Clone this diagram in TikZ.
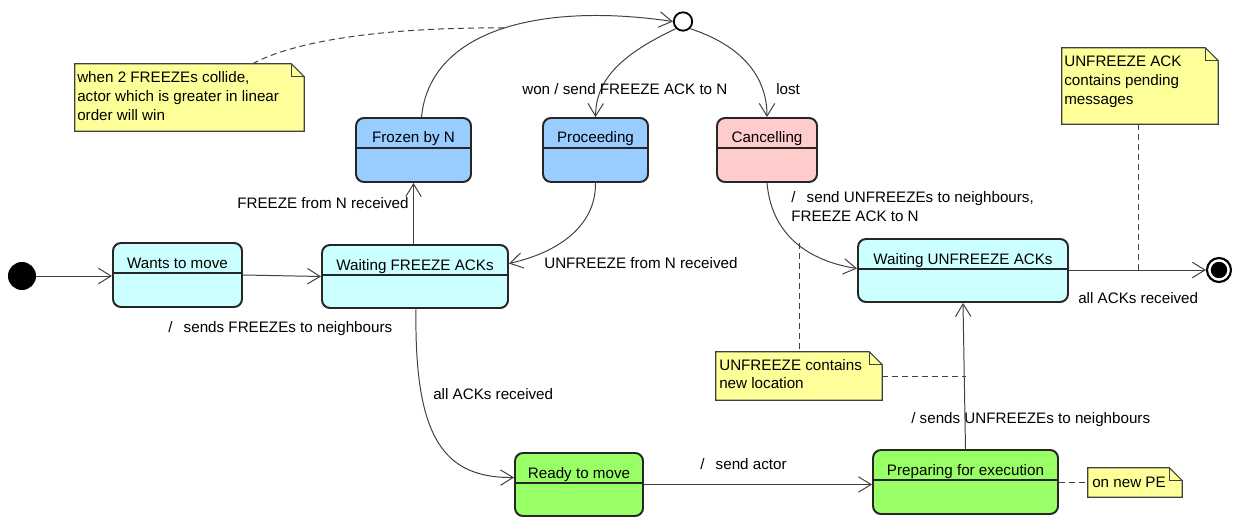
\documentclass[tikz,border=0pt]{standalone}
\usepackage{fontspec}
\setmainfont{Liberation Sans}
\usetikzlibrary{arrows.meta,calc,fit}

\definecolor{stcyan}{HTML}{CCFFFF}
\definecolor{stblue}{HTML}{99CCFF}
\definecolor{stgreen}{HTML}{99FF66}
\definecolor{stpink}{HTML}{FFCCCC}
\definecolor{noteyellow}{HTML}{FFFF99}
\definecolor{linegray}{HTML}{404040}

\newcommand\diagfont{\fontsize{10.8}{13}\selectfont}

\tikzset{
  stateframe/.style={draw=black!85, line width=1.4pt, rounded corners=0.2cm},
  divider/.style={draw=black!85, line width=1pt},
  statetitle/.style={anchor=base, inner sep=0pt, font=\diagfont},
  lbl/.style={anchor=base west, inner sep=0pt, font=\diagfont},
  trans/.style={draw=linegray, line width=0.7pt, -{Straight Barb[length=9pt,width=11pt]}},
  notelink/.style={draw=linegray, line width=0.7pt, dash pattern=on 4.3pt off 2.8pt},
  noteframe/.style={draw=black!75, line width=0.8pt, fill=noteyellow},
}

% state box: name, left, top, right, bottom, fill, title
\newcommand\umlstate[7]{%
  \coordinate (#1-tl) at (#2,#3);
  \coordinate (#1-br) at (#4,#5);
  \node[stateframe, fill=#6, fit=(#1-tl)(#1-br), inner sep=0pt] (#1) {};
  \draw[divider] (#2,{#3+30}) -- (#4,{#3+30});
  \node[statetitle] (#1-name) at ({(#2+#4)/2},{#3+25}) {#7};
}

% note with folded corner: name, left, top, right, bottom
\newcommand\umlnote[5]{%
  \coordinate (#1-tl) at (#2,#3);
  \coordinate (#1-br) at (#4,#5);
  \node[fit=(#1-tl)(#1-br), inner sep=0pt] (#1) {};
  \path[noteframe] (#1.south west) -- (#1.north west) -- ($(#1.north east)+(-13,0)$)
    -- ($(#1.north east)+(0,13)$) -- (#1.south east) -- cycle;
  \draw[noteframe, fill=none] ($(#1.north east)+(-13,0)$) -- ($(#1.north east)+(-13,13)$)
    -- ($(#1.north east)+(0,13)$);
}

\begin{document}
\begin{tikzpicture}[x=0.025cm, y=-0.025cm]
\useasboundingbox (0,0) rectangle (1237,518);
\fill[white] (0,0) rectangle (1237,518);

% ---- states ----
\umlstate{wants}{113}{243}{242}{307}{stcyan}{Wants to move}
\umlstate{wfa}{322}{245}{508}{308}{stcyan}{Waiting FREEZE ACKs}
\umlstate{frozen}{356}{118}{471}{182}{stblue}{Frozen by N}
\umlstate{proc}{543}{118}{648}{182}{stblue}{Proceeding}
\umlstate{canc}{717}{118}{817}{182}{stpink}{Cancelling}
\umlstate{wua}{858}{239}{1068}{302}{stcyan}{Waiting UNFREEZE ACKs}
\umlstate{ready}{515}{453}{643}{516}{stgreen}{Ready to move}
\umlstate{prep}{873}{450}{1058}{514}{stgreen}{Preparing for execution}

% ---- pseudo states ----
\node[circle, fill=black, minimum size=0.7cm, inner sep=0pt] (init) at (22,276) {};
\node[circle, draw=black, line width=1.5pt, fill=white, minimum size=0.6cm, inner sep=0pt] (final) at (1219,270) {};
\node[circle, fill=black, minimum size=0.41cm, inner sep=0pt] (finalin) at (final) {};
\node[circle, draw=black, line width=1.3pt, fill=white, minimum size=0.46cm, inner sep=0pt] (choice) at (683,21.5) {};

% ---- transitions ----
\draw[trans] (init.east) -- (init.east -| wants.west);
\draw[trans] (wants.east) -- (wfa.west);
\draw[trans] (wfa.north -| frozen.south) -- (frozen.south);
\draw[trans] ($(frozen.north)+(8,0)$) .. controls (430,30) and (540,2) .. (choice.west);
\draw[trans] (choice.south west) .. controls (620,55) and (596,80) .. (proc.north);
\draw[trans] (choice.south east) .. controls (740,45) and (767,75) .. (canc.north);
\draw[trans] (proc.south) .. controls (596,225) and (560,252) .. ($(wfa.east)+(0,-13)$);
\draw[trans] ($(wfa.south)+(1,0)$) .. controls (414,440) and (445,478) .. ($(ready.west)+(0,-7)$);
\draw[trans] (canc.south) .. controls (772,240) and (815,262) .. ($(wua.west)+(0,-2)$);
\draw[trans] (ready.east) -- (ready.east -| prep.west);
\draw[trans] (prep.north) -- (wua.south);
\draw[trans] (wua.east |- final.west) -- (final.west);

% ---- transition labels ----
\node[lbl] (l-freeze) at (237,209) {FREEZE from N received};
\node[lbl] (l-sendfr) at (168,332) {/\hspace{8pt}sends FREEZEs to neighbours};
\node[lbl] (l-won) at (522,95) {won / send FREEZE ACK to N};
\node[lbl] (l-lost) at (776,95) {lost};
\node[lbl] (l-unfr) at (544,269) {UNFREEZE from N received};
\node[lbl] (l-canc1) at (791,202.5) {/\hspace{8pt}send UNFREEZEs to neighbours,};
\node[lbl] (l-canc2) at (791,221.5) {FREEZE ACK to N};
\node[lbl] (l-allacks) at (433,399) {all ACKs received};
\node[lbl] (l-actor) at (700,469) {/\hspace{8pt}send actor};
\node[lbl] (l-prep) at (911,423) {/ sends UNFREEZEs to neighbours};
\node[lbl] (l-final) at (1078,303) {all ACKs received};

% ---- notes ----
\umlnote{n1}{75}{64}{304}{131}
\node[lbl] (n1-t1) at (77,83) {when 2 FREEZEs collide,};
\node[lbl] (n1-t2) at (77,102) {actor which is greater in linear};
\node[lbl] (n1-t3) at (77,121) {order will win};

\umlnote{n2}{716}{352}{882}{400}
\node[lbl] (n2-t1) at (719,370) {UNFREEZE contains};
\node[lbl] (n2-t2) at (719,388.5) {new location};

\umlnote{n3}{1062}{48}{1218}{124}
\node[lbl] (n3-t1) at (1064,67) {UNFREEZE ACK};
\node[lbl] (n3-t2) at (1064,86) {contains pending};
\node[lbl] (n3-t3) at (1064,105) {messages};

\umlnote{n4}{1088}{468}{1182}{497}
\node[lbl] (n4-t1) at (1092,487) {on new PE};

% ---- note links ----
\coordinate (c1) at (505,28);
\coordinate (c2) at (799,243);
\coordinate (c3) at (1138,270);
\draw[notelink] ($(n1.north west)+(178,0)$) .. controls (300,38) and (400,27) .. (c1);
\draw[notelink] (c2) -- (c2 |- n2.north);
\draw[notelink] (n2.east) -- (n2.east -| prep.north);
\draw[notelink] (n3.south -| c3) -- (c3);
\draw[notelink] (prep.east) -- (prep.east -| n4.west);
\end{tikzpicture}
\end{document}
